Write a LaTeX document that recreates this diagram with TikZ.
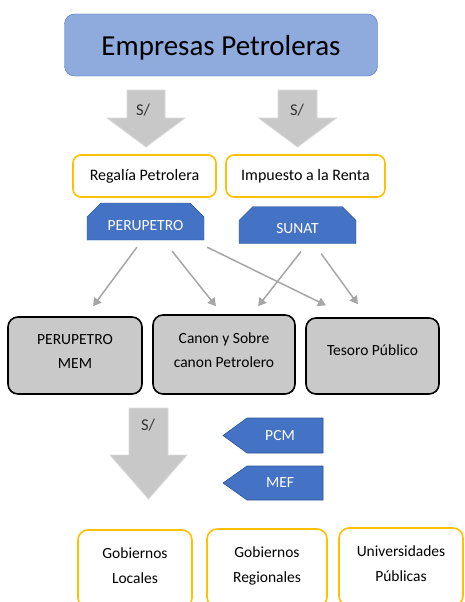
\documentclass[tikz,border=0pt]{standalone}
\usepackage{fontspec}
\setmainfont{Carlito}
\usepackage{xcolor}
\usepackage{tikz}
\usetikzlibrary{shapes.misc, arrows.meta, positioning}

\definecolor{petroblue}{HTML}{4472C4}
\definecolor{lightblue}{HTML}{8FAADC}
\definecolor{darkblue}{HTML}{2F5597}
\definecolor{goldline}{HTML}{FFC000}
\definecolor{boxgray}{HTML}{C9C9C9}
\definecolor{arrowgray}{HTML}{C8C8C8}
\definecolor{linegray}{HTML}{A6A6A6}

\begin{document}
\begin{tikzpicture}[x=1pt, y=-1pt,
    topbox/.style={draw=petroblue, fill=lightblue, rounded corners=10pt, minimum width=313pt, minimum height=62pt, text height=26pt, font=\fontsize{29}{34}\selectfont},
    yellowbox/.style={draw=goldline, line width=1.6pt, fill=white, rounded corners=8pt, minimum height=42pt, font=\fontsize{16}{20}\selectfont},
    agency/.style={chamfered rectangle, chamfered rectangle corners={north west, north east}, chamfered rectangle xsep=7pt, chamfered rectangle ysep=7pt, draw=darkblue, fill=petroblue, text=white, minimum width=117pt, minimum height=37pt, inner sep=0pt, text height=18pt, font=\fontsize{15.5}{20}\selectfont},
    graybox/.style={draw=black, line width=1.6pt, fill=boxgray, rounded corners=10pt, minimum height=77pt, align=center, text depth=8pt, font=\fontsize{15.5}{24}\selectfont},
    bottombox/.style={draw=goldline, line width=1.6pt, fill=white, rounded corners=10pt, minimum height=78pt, align=center, text depth=7pt, font=\fontsize{15.5}{24.5}\selectfont},
    blockarrow/.style={draw=gray!30, fill=arrowgray, line width=0.8pt},
    bluetag/.style={draw=darkblue, fill=petroblue, line width=0.6pt},
    tagtext/.style={text=white, font=\fontsize{15.5}{18}\selectfont},
    money/.style={text=black!80, font=\fontsize{16.5}{18}\selectfont},
    flow/.style={draw=linegray, line width=1.5pt, -{Triangle[length=8pt, width=9pt]}},
]
    \useasboundingbox (0,0) rectangle (464,602);
    \clip (0,0) rectangle (464,602);

    % Source of the money
    \node[topbox] (empresas) at (221,45) {Empresas Petroleras};

    % Money arrows below the companies
    \draw[blockarrow, shift={(146,90)}] (-19,0) -- (19,0) -- (19,28) -- (39,28) -- (0,57) -- (-39,28) -- (-19,28) -- cycle;
    \node[money] (soles1) at (143,110) {S/};
    \draw[blockarrow, shift={(297.5,90)}] (-19.5,0) -- (19.5,0) -- (19.5,28) -- (39,28) -- (0,57) -- (-39,28) -- (-19.5,28) -- cycle;
    \node[money] (soles2) at (297,110) {S/};

    % Kinds of payment
    \node[yellowbox, minimum width=143pt] (regalia) at (144.5,176) {Regalía Petrolera};
    \node[yellowbox, minimum width=159pt] (renta) at (305.5,176) {Impuesto a la Renta};

    % Collecting bodies
    \node[agency] (perupetro) at (145.5,221.5) {PERUPETRO};
    \node[agency] (sunat) at (297.5,225) {SUNAT};

    % First receivers
    \node[graybox, minimum width=134pt] (mem) at (75,355.5) {PERUPETRO\\MEM};
    \node[graybox, minimum width=142pt, minimum height=79pt] (canon) at (224,354.5) {Canon y Sobre\\canon Petrolero};
    \node[graybox, minimum width=133pt, minimum height=76pt, text depth=12pt] (tesoro) at (372.5,356) {Tesoro Público};

    % Where the money goes
    \draw[flow, shorten <=8.7pt, shorten >=12.4pt] ([xshift=-3.4pt]perupetro.south) -- ([xshift=10.7pt]mem.north);
    \draw[flow, shorten <=14pt, shorten >=10.2pt] ([xshift=17.9pt]perupetro.south) -- ([xshift=-1.7pt]canon.north);
    \draw[flow, shorten <=15.8pt, shorten >=27pt] ([xshift=47.4pt]perupetro.south) -- ([xshift=-22.3pt]tesoro.north);
    \draw[flow, shorten <=10.1pt, shorten >=10.1pt] ([xshift=9.6pt]sunat.south) -- ([xshift=27.9pt]canon.north);
    \draw[flow, shorten <=12.3pt, shorten >=16pt] ([xshift=16.4pt]sunat.south) -- ([xshift=-5.2pt]tesoro.north);

    % Transfer to the regions
    \draw[blockarrow, shift={(148.5,408)}] (-19.5,0) -- (19.5,0) -- (19.5,47) -- (38.5,47) -- (0,91) -- (-38.5,47) -- (-19.5,47) -- cycle;
    \node[money] (soles3) at (148,425) {S/};

    \draw[bluetag] (323,418) -- (247,418) -- (223,435.5) -- (247,453) -- (323,453) -- cycle;
    \node[tagtext] (pcm) at (280,435.5) {PCM};
    \draw[bluetag] (323,466) -- (247,466) -- (223,483) -- (247,500) -- (323,500) -- cycle;
    \node[tagtext] (mef) at (280,483) {MEF};

    % Final receivers
    \node[bottombox, minimum width=114pt] (locales) at (135,569) {Gobiernos\\Locales};
    \node[bottombox, minimum width=120pt] (regionales) at (267,568) {Gobiernos\\Regionales};
    \node[bottombox, minimum width=124pt] (universidades) at (401,567) {Universidades\\Públicas};
\end{tikzpicture}
\end{document}
